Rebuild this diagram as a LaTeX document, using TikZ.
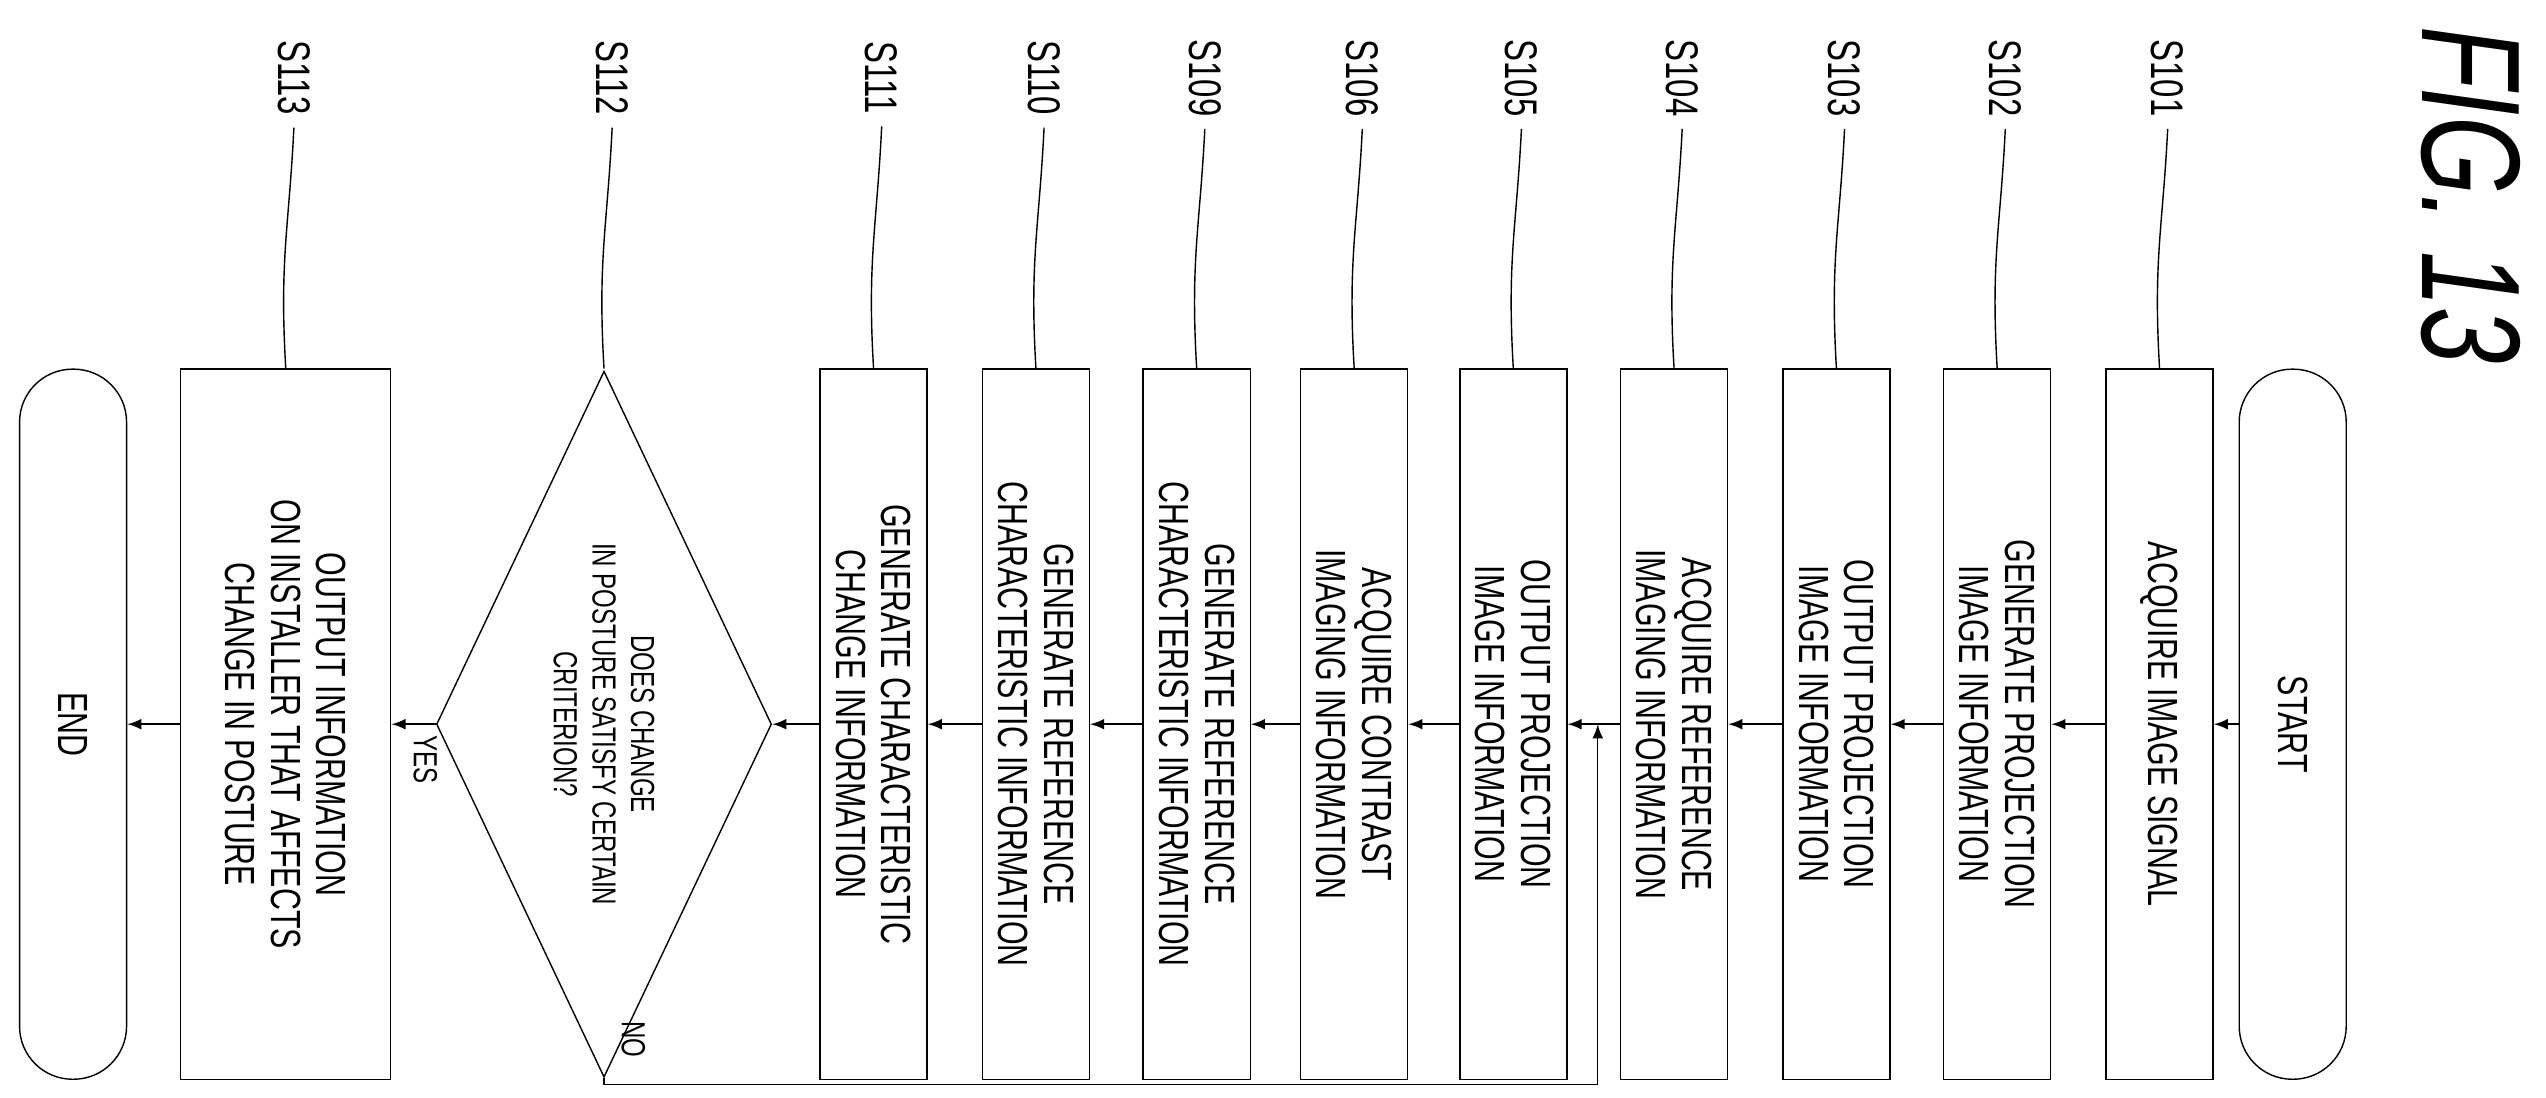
\documentclass[tikz,border=0pt]{standalone}
\usepackage{fontspec}
\setmainfont{Liberation Sans}[FakeStretch=0.72]
\usetikzlibrary{arrows,positioning,shapes.geometric}

\begin{document}
\begin{tikzpicture}[x=0.016237cm,y=-0.016237cm,>=latex]
	  \tikzset{proc/.style={draw, rectangle, rotate=-90, align=center, font=\fontsize{12}{13}\selectfont, minimum width=7.1cm, minimum height=1.07cm, inner sep=1pt},
	  	term/.style={draw, rectangle, rotate=-90, rounded corners=0.53cm, align=center, font=\fontsize{12}{13}\selectfont, minimum width=7.1cm, minimum height=1.07cm},
	  	decide/.style={draw, diamond, rotate=-90, aspect=2.1, align=center, inner sep=0pt, font=\fontsize{9.5}{11}\selectfont, minimum width=7.06cm, minimum height=3.35cm},
	  	steptag/.style={rotate=-90, font=\fontsize{13}{14}\selectfont},
	  	lead/.style={thin},
	  }
	  \useasboundingbox (0,0) rectangle (1568,676);
	  \node [term] (start) at (1412,446) {START};
	  \node [proc] (s101) at (1330,446) {ACQUIRE IMAGE SIGNAL};
	  \node [proc] (s102) at (1230,446) {GENERATE PROJECTION\\IMAGE INFORMATION};
	  \node [proc] (s103) at (1131,446) {OUTPUT PROJECTION\\IMAGE INFORMATION};
	  \node [proc] (s104) at (1031,446) {ACQUIRE REFERENCE\\IMAGING INFORMATION};
	  \node [proc] (s105) at (932,446) {OUTPUT PROJECTION\\IMAGE INFORMATION};
	  \node [proc] (s106) at (834,446) {ACQUIRE CONTRAST\\IMAGING INFORMATION};
	  \node [proc] (s109) at (737,446) {GENERATE REFERENCE\\CHARACTERISTIC INFORMATION};
	  \node [proc] (s110) at (638,446) {GENERATE REFERENCE\\CHARACTERISTIC INFORMATION};
	  \node [proc] (s111) at (538,446) {GENERATE CHARACTERISTIC\\CHANGE INFORMATION};
	  \node [decide] (s112) at (372,446) {DOES CHANGE\\IN POSTURE SATISFY CERTAIN\\CRITERION?};
	  \node [proc, minimum height=2.1cm] (s113) at (176,446) {OUTPUT INFORMATION\\ON INSTALLER THAT AFFECTS\\CHANGE IN POSTURE};
	  \node [term] (end) at (45,446) {END};
	  \node [rotate=-90, font=\itshape\fontsize{40}{40}\selectfont] (fig) at (1522,120) {FIG. 13};

	  %% step numbers
	  \foreach \n/\x in {101/1330,102/1230,103/1131,104/1031,105/932,106/834,109/737,110/638,111/538,112/372,113/176}{
	  	\node [steptag] (t\n) at (\x+5,48) {S\n};
	  	\draw [lead] (t\n.east) .. controls (\x+2,140) and (\x-4,160) .. (\x,227);
	  }

	  %% paths
	  \path[draw,->] (start) edge (s101)
	  (s101) edge (s102)
	  (s102) edge (s103)
	  (s103) edge (s104)
	  (s104) edge (s105)
	  (s105) edge (s106)
	  (s106) edge (s109)
	  (s109) edge (s110)
	  (s110) edge (s111)
	  (s111) edge (s112)
	  (s112) edge (s113)
	  (s113) edge (end)
	  ;
	  \node [rotate=-90, font=\fontsize{9.5}{10}\selectfont] (yes) at (262,468) {YES};
	  \coordinate (join) at (984,446);
	  \draw [->] (s112.east) |- (984,668) -- (join);
	  \node [rotate=-90, font=\fontsize{9.5}{10}\selectfont] (no) at (390,640) {NO};
\end{tikzpicture}
\end{document}
